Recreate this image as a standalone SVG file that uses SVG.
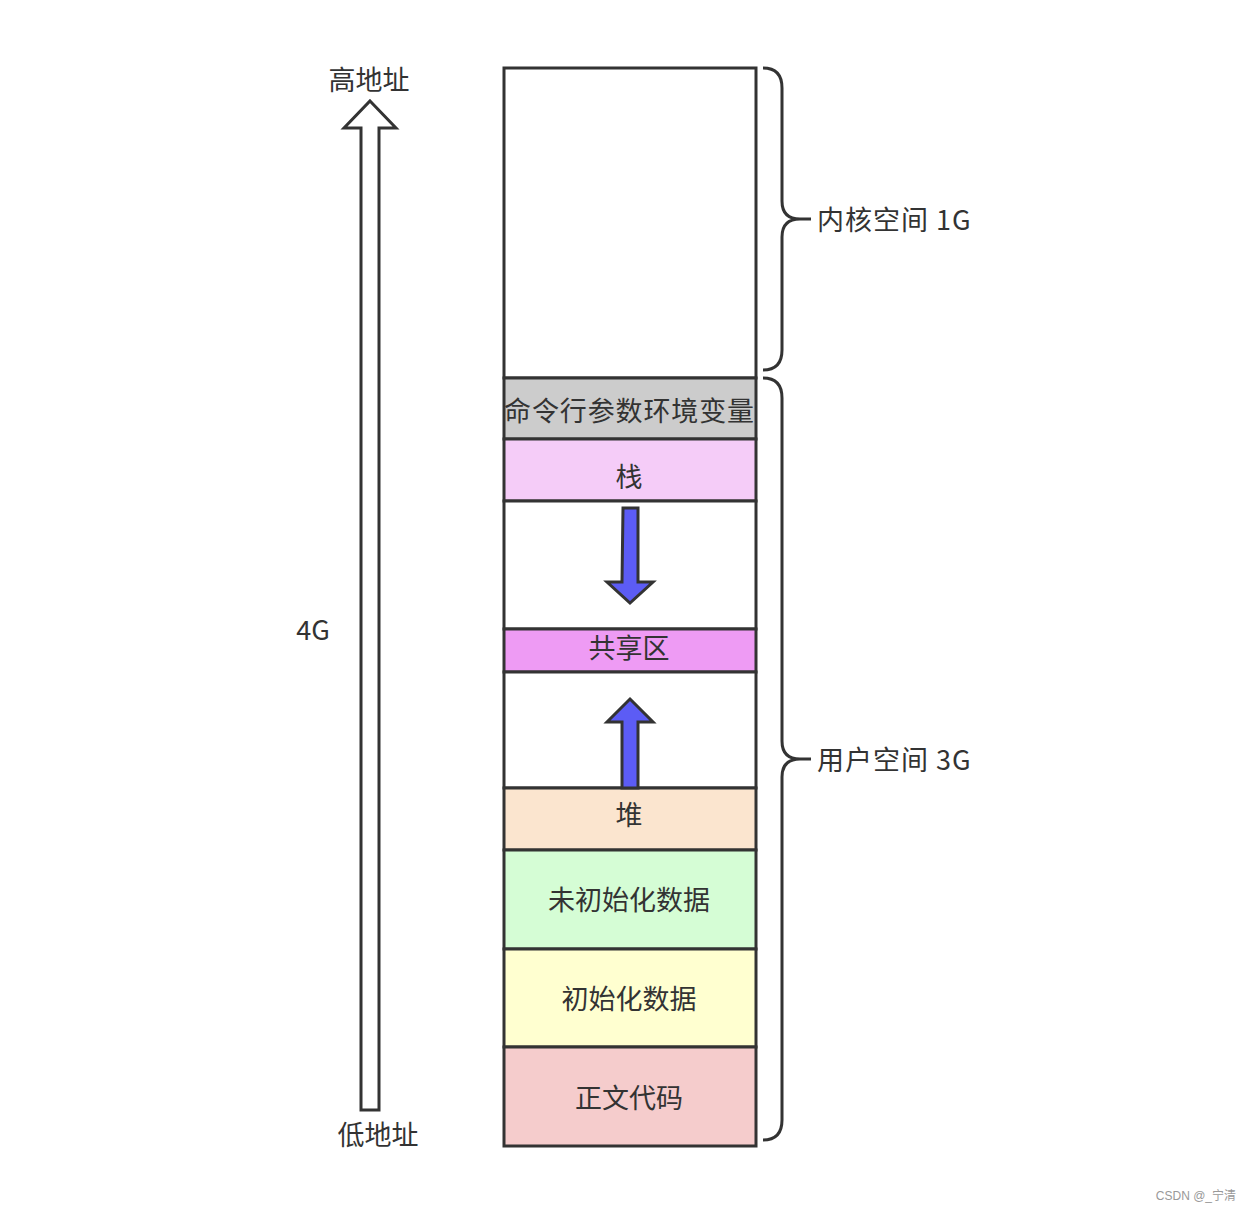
<svg xmlns="http://www.w3.org/2000/svg" width="1251" height="1212" viewBox="0 0 1251 1212">
<style>
.cell{stroke:#333;stroke-width:3}
.t{font-family:"Noto Sans CJK SC","Liberation Sans",sans-serif;fill:#333;text-anchor:middle;dominant-baseline:central}
.lbl{font-family:"Noto Sans CJK SC","Liberation Sans",sans-serif;fill:#333;font-size:27px;dominant-baseline:central}
.brace{fill:none;stroke:#333;stroke-width:3;stroke-linejoin:round}
.blue{fill:#5c5cf5;stroke:#333;stroke-width:3;stroke-linejoin:miter}
</style>
<rect width="1251" height="1212" fill="#fff"/>
<g id="address-arrow">
<path d="M370,101 L396,128 L379,128 L379,1110 L361,1110 L361,128 L344,128 Z" fill="#fff" stroke="#333" stroke-width="3"/>
</g>
<g id="labels-left">
<text class="t" x="369" y="78" font-size="27">高地址</text>
<text class="t" x="378" y="1133" font-size="27">低地址</text>
<text class="t" x="313" y="628" font-size="27">4G</text>
</g>
<g id="kernel"><rect class="cell" x="504" y="68" width="252" height="310" fill="#fff"/></g>
<g id="cmdline"><rect class="cell" x="504" y="378" width="252" height="61" fill="#cccccc"/>
<text class="t" x="629" y="409" font-size="27" textLength="250" lengthAdjust="spacing">命令行参数环境变量</text></g>
<g id="stack"><rect class="cell" x="504" y="439" width="252" height="62" fill="#f5ccf8"/>
<text class="t" x="629" y="475" font-size="27">栈</text></g>
<g id="gap1"><rect class="cell" x="504" y="501" width="252" height="128" fill="#fff"/></g>
<g id="shared"><rect class="cell" x="504" y="629" width="252" height="43" fill="#ee9bf4"/>
<text class="t" x="629" y="646" font-size="27">共享区</text></g>
<g id="gap2"><rect class="cell" x="504" y="672" width="252" height="116" fill="#fff"/></g>
<g id="heap"><rect class="cell" x="504" y="788" width="252" height="62" fill="#fbe5cf"/>
<text class="t" x="629" y="813" font-size="27">堆</text></g>
<g id="bss"><rect class="cell" x="504" y="850" width="252" height="99" fill="#d5fdd5"/>
<text class="t" x="629" y="898" font-size="27">未初始化数据</text></g>
<g id="data"><rect class="cell" x="504" y="949" width="252" height="98" fill="#ffffd0"/>
<text class="t" x="629" y="997" font-size="27">初始化数据</text></g>
<g id="text"><rect class="cell" x="504" y="1047" width="252" height="99" fill="#f5cccc"/>
<text class="t" x="629" y="1096" font-size="27">正文代码</text></g>
<g id="connectors">
<path class="blue" d="M623,508 L638,508 L638,582 L653,582 L630,603 L607,582 L622,582 Z"/>
<path class="blue" d="M630,699 L653,722 L638,722 L638,788 L622,788 L622,722 L607,722 Z"/>
<path class="brace" d="M763,68 Q782,68 782,88 L782,201 Q782,219 800,219 L811,219 M800,219 Q782,219 782,237 L782,350 Q782,370 763,370"/>
<path class="brace" d="M763,378 Q782,378 782,398 L782,741 Q782,759 800,759 L811,759 M800,759 Q782,759 782,777 L782,1120 Q782,1140 763,1140"/>
</g>
<g id="brace-labels">
<text class="lbl" x="817" y="218" letter-spacing="1">内核空间 1G</text>
<text class="lbl" x="817" y="758" letter-spacing="1">用户空间 3G</text>
</g>
<text x="1236" y="1200" font-family="Liberation Sans,Noto Sans CJK SC,sans-serif" font-size="12" fill="#999" text-anchor="end">CSDN @_宁清</text>
</svg>
